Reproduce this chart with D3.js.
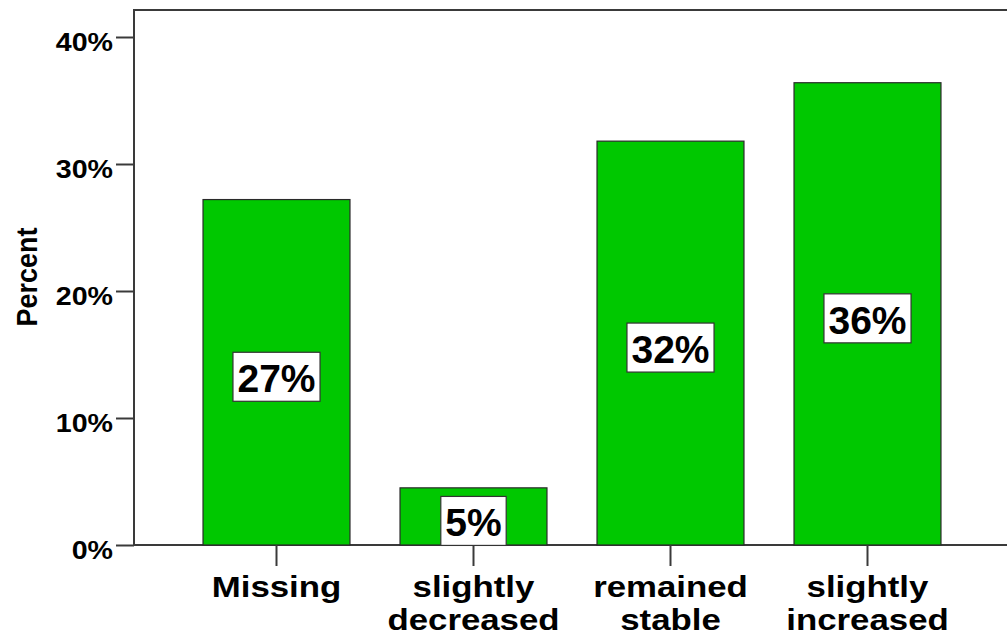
<!DOCTYPE html>
<html>
<head>
<meta charset="utf-8">
<script src="https://cdn.jsdelivr.net/npm/d3@7"></script>
<style>
  html, body { margin: 0; padding: 0; background: #fff; }
  svg { display: block; }
  text { font-family: "Liberation Sans", Arial, sans-serif; font-weight: bold; fill: #000; }
</style>
</head>
<body>
<svg id="chart" width="1007" height="635"></svg>
<script>
// Share of respondents per category (percent)
const categories = ["Missing", "slightly decreased", "remained stable", "slightly increased"];
const categoryLines = [["Missing"], ["slightly", "decreased"], ["remained", "stable"], ["slightly", "increased"]];
const percents = [27.2, 4.5, 31.8, 36.4];
const yTicks = [0, 10, 20, 30, 40];

const svg = d3.select("#chart");
const plot = { left: 134, top: 10, right: 1012, bottom: 545 };

const x = d3.scaleBand()
  .domain(categories)
  .range([178, 966])
  .paddingInner(0.254)
  .paddingOuter(0.127);

const y = d3.scaleLinear()
  .domain([0, (plot.bottom - plot.top) / 12.7])
  .range([plot.bottom, plot.top]);

const axisColor = "#3a3a3a";

// Plot frame
svg.append("rect")
  .attr("x", plot.left).attr("y", plot.top)
  .attr("width", plot.right - plot.left).attr("height", plot.bottom - plot.top)
  .attr("fill", "none").attr("stroke", axisColor).attr("stroke-width", 2);

// Bars
const data = categories.map((c, i) => ({ cat: c, value: percents[i], lines: categoryLines[i] }));

svg.append("g").selectAll("rect")
  .data(data).join("rect")
  .attr("x", d => x(d.cat))
  .attr("y", d => y(d.value))
  .attr("width", x.bandwidth())
  .attr("height", d => y(0) - y(d.value))
  .attr("fill", "#00c800")
  .attr("stroke", "#2a2a2a")
  .attr("stroke-width", 1.2);

// Y axis
const yAxis = svg.append("g")
  .attr("transform", `translate(${plot.left},0)`)
  .call(d3.axisLeft(y).tickValues(yTicks).tickSize(18).tickPadding(3).tickFormat(d => d + "%"));
yAxis.select(".domain").remove();
yAxis.selectAll(".tick line").attr("stroke", axisColor).attr("stroke-width", 2);
yAxis.selectAll(".tick text")
  .attr("font-size", 26)
  .attr("dy", "0.52em")
  .attr("fill", "#000")
  .each(function () {
    const t = d3.select(this);
    const xx = +t.attr("x");
    t.attr("x", null).attr("transform", `translate(${xx},0) scale(1.1,1)`);
  });

// X axis
const xAxis = svg.append("g")
  .attr("transform", `translate(0,${plot.bottom})`)
  .call(d3.axisBottom(x).tickSize(21).tickFormat(""));
xAxis.select(".domain").remove();
xAxis.selectAll(".tick line").attr("stroke", axisColor).attr("stroke-width", 2);

// Category labels, wrapped onto stacked lines
const catG = svg.append("g");
data.forEach(d => {
  const cx = x(d.cat) + x.bandwidth() / 2;
  const t = catG.append("text")
    .attr("transform", `translate(${cx},597) scale(1.18,1)`)
    .attr("text-anchor", "middle")
    .attr("font-size", 29.5);
  d.lines.forEach((ln, j) => {
    t.append("tspan").attr("x", 0).attr("y", j * 33).text(ln);
  });
});

// Y axis title
svg.append("text")
  .attr("transform", `translate(37,277) rotate(-90) scale(1,1.12)`)
  .attr("text-anchor", "middle")
  .attr("font-size", 27)
  .text("Percent");

// Value labels in white boxes
const fmt = v => Math.round(v) + "%";
const labG = svg.append("g");
data.forEach(d => {
  const cx = x(d.cat) + x.bandwidth() / 2;
  const cy = (y(d.value) + y(0)) / 2 + 4.5;
  const g = labG.append("g");
  const box = g.append("rect");
  const t = g.append("text")
    .attr("x", cx).attr("y", cy + 15.5)
    .attr("text-anchor", "middle")
    .attr("font-size", 39)
    .text(fmt(d.value));
  const w = t.node().getComputedTextLength() + 9;
  box.attr("x", cx - w / 2).attr("y", cy - 24.5)
    .attr("width", w).attr("height", 49)
    .attr("fill", "#fff").attr("stroke", "#333").attr("stroke-width", 1.2);
});
</script>
</body>
</html>
